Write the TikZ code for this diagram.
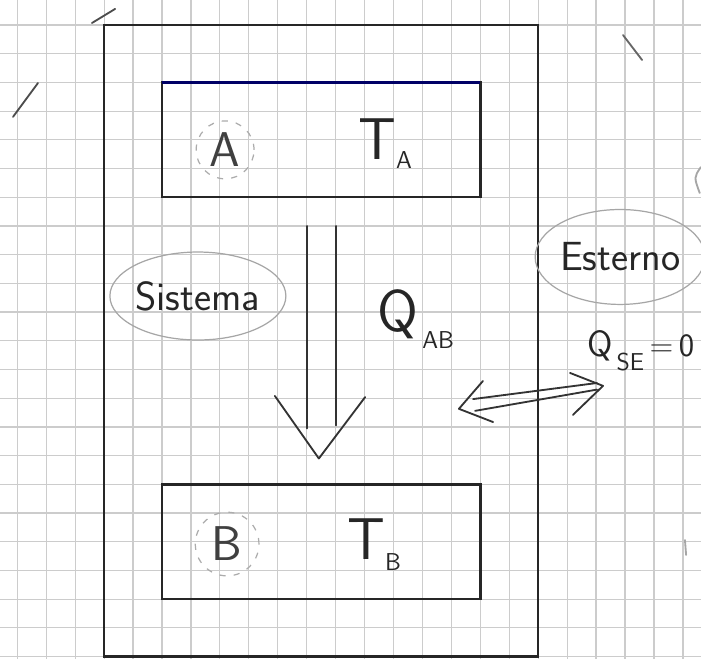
\documentclass[tikz,border=0pt]{standalone}
\usetikzlibrary{positioning,shapes.geometric}

\newcommand{\hsub}[2][-4pt]{{\fontsize{12}{12}\selectfont\raisebox{#1}{#2}}}

\begin{document}
\begin{tikzpicture}[
        x=0.5cm, y=-0.496cm,
        gridline/.style={draw=gray!40, line width=0.6pt},
        wall/.style={draw=black!85, line width=1.2pt},
        pen/.style={draw=black!80, line width=0.9pt, line cap=round, line join=round},
        hand/.style={font=\sffamily\fontsize{29}{29}\selectfont, text=black!85, inner sep=0pt},
        tag/.style={circle, draw=gray!65, dashed, dash pattern=on 3pt off 4pt, line width=0.6pt, inner sep=0pt, font=\sffamily\fontsize{24}{24}\selectfont, text=black!75},
        bubble/.style={ellipse, draw=gray!70, line width=0.6pt, inner sep=0pt, font=\sffamily\fontsize{20}{20}\selectfont, text=black!85}
    ]
        \fill[white] (-0.598,-0.871) rectangle (23.625,22.08);
        \useasboundingbox (-0.598,-0.871) rectangle (23.625,22.08);

        \foreach \i in {0,...,23}
            \draw[gridline] (\i,-0.871) -- (\i,22.08);
        \foreach \j in {0,...,22}
            \draw[gridline] (-0.598,\j) -- (23.625,\j);

        \draw[wall] (3,0) rectangle (18,22);
        \draw[wall] (5,2) rectangle (16,6);
        \draw[wall, draw=blue!40!black] (5,2) -- (16,2);
        \draw[wall] (5,16) rectangle (16,20);

        \node[tag, minimum size=1cm] (tagA) at (7.18,4.35) {A};
        \node[tag, minimum size=1.1cm] (tagB) at (7.25,18.08) {B};
        \node[hand, anchor=base west] (tempA) at (11.77,4.70) {T\hsub{A}};
        \node[hand, anchor=base west] (tempB) at (11.39,18.63) {T\hsub[-5pt]{B}};

        \node[bubble, minimum width=2.94cm, minimum height=1.52cm] (sys) at (6.24,9.44) {Sistema};
        \node[bubble, minimum width=2.7cm, minimum height=1.64cm] (ext) at (20.83,8.08) {Esterno};

        \node[hand, anchor=base west] (qab) at (12.43,10.69) {Q\hsub[-8pt]{\,AB}};
        \node[hand, anchor=base west, font=\sffamily\fontsize{18}{18}\selectfont] (qse) at (19.68,11.55) {Q\hsub[-7pt]{\,SE}{\fontsize{16}{16}\selectfont\,=\,0}};

        \coordinate (shaftL) at (10,7);
        \coordinate (shaftR) at (11,7);
        \coordinate (shaftLend) at (10,14.05);
        \coordinate (shaftRend) at (11,13.95);
        \coordinate (headL) at (8.9,12.92);
        \coordinate (tip) at (10.42,15.10);
        \coordinate (headR) at (12.02,12.96);
        \draw[pen] (shaftL) -- (shaftLend);
        \draw[pen] (shaftR) -- (shaftRend);
        \draw[pen] (headL) -- (tip) -- (headR);

        \coordinate (inTip) at (15.26,13.37);
        \coordinate (inUp) at (16.09,12.40);
        \coordinate (inLow) at (16.44,13.83);
        \coordinate (outTip) at (20.24,12.57);
        \coordinate (outUp) at (19.10,12.12);
        \coordinate (outLow) at (19.20,13.58);
        \coordinate (railA) at (15.75,13.03);
        \coordinate (railB) at (20.03,12.47);
        \coordinate (railC) at (15.82,13.44);
        \coordinate (railD) at (20.03,12.70);
        \draw[pen] (inUp) -- (inTip) -- (inLow);
        \draw[pen] (outUp) -- (outTip) -- (outLow);
        \draw[pen] (railA) -- (railB);
        \draw[pen] (railC) -- (railD);

        \draw[pen, draw=black!70] (-0.149,3.2) -- (0.715,2.02);
        \draw[pen, draw=black!70] (2.58,-0.07) -- (3.38,-0.56);
        \draw[pen, draw=black!60] (20.93,0.35) -- (21.59,1.22);
        \draw[pen, draw=gray!70] (23.62,4.95) .. controls (23.38,5.3) .. (23.58,5.85);
        \draw[pen, draw=gray!70] (23.07,17.94) -- (23.11,18.46);
    \end{tikzpicture}
\end{document}
